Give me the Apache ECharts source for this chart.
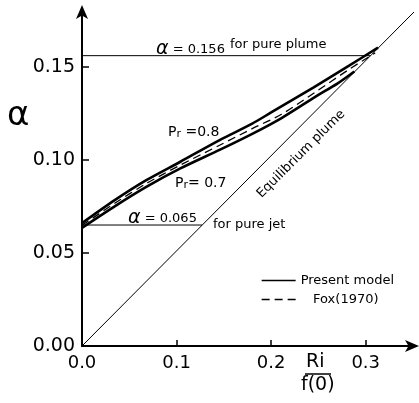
<!DOCTYPE html>
<html>
<head>
<meta charset="utf-8">
<script src="https://cdn.jsdelivr.net/npm/echarts@6/dist/echarts.min.js"></script>
<style>
  html, body { margin: 0; padding: 0; background: #fff; }
  #chartDom { width: 419px; height: 403px; }
</style>
</head>
<body>
<div id="chartDom"></div>
<script>
// values: Ri/f(0) on x, alpha on y
const pr08Ri    = [0, 0.035, 0.068, 0.104, 0.145, 0.180, 0.200, 0.245, 0.282, 0.313];
const pr08Alpha = [0.0660, 0.0785, 0.0891, 0.0990, 0.1105, 0.1195, 0.1255, 0.1390, 0.1505, 0.1603];

const pr07Ri    = [0, 0.035, 0.068, 0.104, 0.146, 0.180, 0.211, 0.247, 0.270, 0.288];
const pr07Alpha = [0.0635, 0.0752, 0.0855, 0.0954, 0.1055, 0.1140, 0.1225, 0.1340, 0.1410, 0.1475];

const foxRi    = [0, 0.035, 0.068, 0.104, 0.146, 0.180, 0.211, 0.247, 0.282, 0.310];
const foxAlpha = [0.0648, 0.0768, 0.0873, 0.0972, 0.1080, 0.1168, 0.1245, 0.1365, 0.1485, 0.1575];

const equilRi    = [0, 0.356];
const equilAlpha = [0, 0.182];

const plumeRi    = [0, 0.305];
const plumeAlpha = [0.156, 0.156];

const jetRi    = [0, 0.127];
const jetAlpha = [0.065, 0.065];

const xTicks = [0, 0.1, 0.2, 0.3];
const yTicks = [0, 0.05, 0.10, 0.15];

function pairs (xs, ys) {
  return xs.map((x, i) => [x, ys[i]])
}

const font = 'DejaVu Sans'
const chart = echarts.init(document.getElementById('chartDom'))

const thinLine = { color: '#000', width: 1 }

const option = {
  animation: false,
  backgroundColor: '#fff',
  color: ['#000'],
  textStyle: { fontFamily: font, color: '#000' },
  grid: { left: 82, top: 11, right: 6, bottom: 57, containLabel: false },
  legend: {
    data: ['Present model', 'Fox(1970)'],
    orient: 'vertical',
    left: 256,
    top: 269,
    itemWidth: 34,
    itemHeight: 10,
    itemGap: 6,
    formatter: function (name) {
      return name === 'Fox(1970)' ? '   Fox(1970)' : name
    },
    itemStyle: { opacity: 0 },
    lineStyle: { width: 1.3, color: '#000' },
    textStyle: { fontFamily: font, fontSize: 13, color: '#000' }
  },
  xAxis: {
    type: 'value',
    min: 0,
    max: 0.35,
    splitLine: { show: false },
    axisLine: {
      lineStyle: { color: '#000', width: 2 },
      symbol: ['none', 'arrow'],
      symbolSize: [9, 14],
      symbolOffset: [0, 6]
    },
    axisTick: { inside: true, length: 6, lineStyle: { color: '#000', width: 1.5 }, customValues: xTicks },
    axisLabel: {
      customValues: xTicks,
      margin: 8,
      fontFamily: font,
      fontSize: 18,
      color: '#000',
      formatter: v => v.toFixed(1)
    }
  },
  yAxis: {
    type: 'value',
    min: 0,
    max: 0.18,
    splitLine: { show: false },
    axisLine: {
      lineStyle: { color: '#000', width: 2 },
      symbol: ['none', 'arrow'],
      symbolSize: [9, 14],
      symbolOffset: [0, 6]
    },
    axisTick: { inside: true, length: 7, lineStyle: { color: '#000', width: 1.5 }, customValues: yTicks },
    axisLabel: {
      customValues: yTicks,
      margin: 7,
      fontFamily: font,
      fontSize: 19,
      color: '#000',
      formatter: v => v.toFixed(2)
    }
  },
  series: [
    {
      name: 'equilibrium', type: 'line', data: pairs(equilRi, equilAlpha),
      symbol: 'none', clip: false, lineStyle: thinLine, silent: true
    },
    {
      name: 'plume', type: 'line', data: pairs(plumeRi, plumeAlpha),
      symbol: 'none', lineStyle: thinLine, silent: true
    },
    {
      name: 'jet', type: 'line', data: pairs(jetRi, jetAlpha),
      symbol: 'none', lineStyle: thinLine, silent: true
    },
    {
      name: 'Present model', type: 'line', data: pairs(pr08Ri, pr08Alpha),
      symbol: 'none', smooth: 0.3, itemStyle: { color: '#000' },
      lineStyle: { color: '#000', width: 2.6 }
    },
    {
      name: 'Present model', type: 'line', data: pairs(pr07Ri, pr07Alpha),
      symbol: 'none', smooth: 0.3, itemStyle: { color: '#000' },
      lineStyle: { color: '#000', width: 2.6 }
    },
    {
      name: 'Fox(1970)', type: 'line', data: pairs(foxRi, foxAlpha),
      symbol: 'none', smooth: 0.3, itemStyle: { color: '#000' },
      lineStyle: { color: '#000', width: 1.3, type: [8, 5] }
    }
  ],
  graphic: [
    // axis names
    { type: 'text', left: 7, top: 99, style: { text: 'α', font: '34px ' + font, fill: '#000' } },
    { type: 'text', left: 306, top: 353, style: { text: 'Ri', font: '19px ' + font, fill: '#000' } },
    { type: 'line', shape: { x1: 305, y1: 374, x2: 331, y2: 374 }, style: { stroke: '#000', lineWidth: 1.5 } },
    { type: 'text', left: 301, top: 376, style: { text: 'f(0)', font: '19px ' + font, fill: '#000' } },
    // annotations
    {
      type: 'text', left: 156, top: 40,
      style: {
        text: '{g|α} = 0.156',
        font: '13px ' + font, fill: '#000',
        rich: { g: { fontSize: 19, fontStyle: 'italic', fontFamily: font } }
      }
    },
    { type: 'text', left: 230, top: 38, style: { text: 'for pure plume', font: '13px ' + font, fill: '#000' } },
    {
      type: 'text', left: 168, top: 125,
      style: {
        text: 'P{s|r} =0.8', font: '14px ' + font, fill: '#000',
        rich: { s: { fontSize: 11, fontFamily: font, padding: [4, 0, 0, 0] } }
      }
    },
    {
      type: 'text', left: 175, top: 176,
      style: {
        text: 'P{s|r}= 0.7', font: '14px ' + font, fill: '#000',
        rich: { s: { fontSize: 11, fontFamily: font, padding: [4, 0, 0, 0] } }
      }
    },
    {
      type: 'text', left: 128, top: 209,
      style: {
        text: '{g|α} = 0.065',
        font: '13px ' + font, fill: '#000',
        rich: { g: { fontSize: 19, fontStyle: 'italic', fontFamily: font } }
      }
    },
    { type: 'text', left: 213, top: 218, style: { text: 'for pure jet', font: '13px ' + font, fill: '#000' } },
    {
      type: 'text', x: 301, y: 154, rotation: Math.PI / 4,
      style: {
        text: 'Equilibrium plume', font: '13px ' + font, fill: '#000',
        align: 'center', verticalAlign: 'middle'
      }
    }
  ]
}

chart.setOption(option)
</script>
</body>
</html>
